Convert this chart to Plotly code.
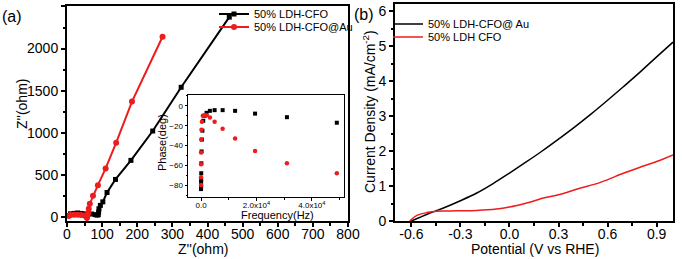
import plotly.graph_objects as go

# ---------------- data ----------------
# panel (a) Nyquist
a_cfo_x = [3, 10, 20, 30, 40, 50, 60, 70, 80, 86, 89, 90, 91, 95, 102, 114, 138, 182, 244, 325, 462]
a_cfo_y = [20, 40, 45, 50, 45, 40, 40, 38, 30, 25, 30, 60, 100, 140, 182, 293, 448, 674, 1022, 1541, 2373]
a_au_x = [5, 10, 20, 30, 40, 50, 55, 57, 58, 60, 62, 65, 74, 88, 110, 140, 185, 272]
a_au_y = [15, 25, 30, 28, 25, 20, 5, -10, 20, 50, 100, 160, 255, 380, 578, 884, 1371, 2140]

# inset Bode phase
in_freq_cfo = [49000, 31000, 19500, 12300, 7800, 4900, 3200, 2000, 1250, 800, 500, 320, 200, 125, 80, 50, 32, 20, 12, 8]
in_phase_cfo = [-17, -11.4, -7.8, -5, -4.3, -4.3, -5, -7, -10, -15, -25, -34, -46, -58, -68, -75, -77, -80, -82, -84]
in_freq_au = [49000, 31000, 19500, 12300, 7800, 4900, 3200, 2000, 1250, 650, 320, 160, 80, 40, 20, 10, 5]
in_phase_au = [-68, -58, -45.5, -33, -23, -16, -11.8, -9.4, -9.4, -10, -16, -24, -34, -47, -59, -72, -80]

# panel (b) LSV
b_au_x = [-0.6, -0.55, -0.5, -0.45, -0.4, -0.3, -0.2, -0.1, 0.0, 0.1, 0.2, 0.3, 0.4, 0.5, 0.6, 0.7, 0.8, 0.9, 1.0]
b_au_y = [0.0, 0.1, 0.2, 0.29, 0.38, 0.58, 0.8, 1.07, 1.37, 1.68, 2.0, 2.34, 2.69, 3.06, 3.45, 3.85, 4.26, 4.69, 5.11]
b_cfo_x = [-0.61, -0.566, -0.505, -0.445, -0.38, -0.32, -0.2, -0.08, 0.0, 0.1, 0.22, 0.3, 0.42, 0.56, 0.7, 0.82, 0.9, 1.0]
b_cfo_y = [0.0, 0.16, 0.24, 0.28, 0.285, 0.29, 0.3, 0.34, 0.4, 0.51, 0.67, 0.75, 0.92, 1.11, 1.37, 1.57, 1.7, 1.89]

inset_xticks = [0, 20000, 40000]
inset_xtext = ["0.0", "2.0x10<sup>4</sup>", "4.0x10<sup>4</sup>"]

W, H = 682, 259
def px(x):
    return x / W
def py(y):
    return 1 - y / H

FONT = "Liberation Sans, Arial, sans-serif"
BLACK = "#000000"
RED = "#ee1c1c"

fig = go.Figure()

fig.add_trace(go.Scatter(x=a_cfo_x, y=a_cfo_y, mode="lines+markers", name="50% LDH-CFO",
                         line=dict(color=BLACK, width=2), marker=dict(symbol="square", size=5, color=BLACK),
                         xaxis="x", yaxis="y", legend="legend"))
fig.add_trace(go.Scatter(x=a_au_x, y=a_au_y, mode="lines+markers", name="50% LDH-CFO@Au",
                         line=dict(color=RED, width=2), marker=dict(symbol="circle", size=6, color=RED),
                         xaxis="x", yaxis="y", legend="legend3"))

fig.add_trace(go.Scatter(x=in_freq_cfo, y=in_phase_cfo, mode="markers", showlegend=False,
                         marker=dict(symbol="square", size=4, color=BLACK), xaxis="x3", yaxis="y3"))
fig.add_trace(go.Scatter(x=in_freq_au, y=in_phase_au, mode="markers", showlegend=False,
                         marker=dict(symbol="circle", size=4.5, color=RED), xaxis="x3", yaxis="y3"))

fig.add_trace(go.Scatter(x=b_au_x, y=b_au_y, mode="lines", name="50% LDH-CFO@ Au",
                         line=dict(color=BLACK, width=1.5, shape="spline"), xaxis="x2", yaxis="y2", legend="legend2"))
fig.add_trace(go.Scatter(x=b_cfo_x, y=b_cfo_y, mode="lines", name="50% LDH CFO",
                         line=dict(color=RED, width=1.5, shape="spline"), xaxis="x2", yaxis="y2", legend="legend4"))

main_axis = dict(showgrid=False, zeroline=False, showline=True, linecolor=BLACK, linewidth=2,
                 mirror=True, ticks="outside", ticklen=4, tickwidth=1.5, tickcolor=BLACK, automargin=False,
                 tickfont=dict(family=FONT, size=14, color=BLACK))

def leg(x, y):
    return dict(x=px(x), y=py(y), xanchor="left", yanchor="middle", bgcolor="rgba(0,0,0,0)",
                font=dict(family=FONT, size=11, color=BLACK), itemwidth=30, tracegroupgap=0,
                borderwidth=0)

fig.update_layout(
    template="none",
    width=W, height=H, margin=dict(l=0, r=0, t=0, b=0, autoexpand=False),
    paper_bgcolor="white", plot_bgcolor="white",
    font=dict(family=FONT, color=BLACK),
    xaxis=dict(main_axis, domain=[px(67), px(348)], range=[0, 800], dtick=100, ticklabelstandoff=-5,
               minor=dict(dtick=50, ticks="outside", ticklen=2.5, tickcolor=BLACK), anchor="y"),
    yaxis=dict(main_axis, domain=[py(221), py(6)], range=[-45, 2505], dtick=500,
               minor=dict(dtick=250, ticks="outside", ticklen=2.5, tickcolor=BLACK), anchor="x"),
    xaxis2=dict(main_axis, domain=[px(395), px(673)], range=[-0.7, 1.0], tickvals=[-0.6, -0.3, 0.0, 0.3, 0.6, 0.9],
                ticktext=["-0.6", "-0.3", "0.0", "0.3", "0.6", "0.9"], ticklabelstandoff=-5,
                minor=dict(dtick=0.15, tick0=-0.6, ticks="outside", ticklen=2.5, tickcolor=BLACK), anchor="y2"),
    yaxis2=dict(main_axis, domain=[py(221), py(4)], range=[0, 6.2], dtick=1,
                minor=dict(dtick=0.5, ticks="outside", ticklen=2.5, tickcolor=BLACK), anchor="x2"),
    xaxis3=dict(showgrid=False, zeroline=False, showline=True, linecolor=BLACK, linewidth=1, mirror=True,
                ticks="outside", ticklen=2.5, tickcolor=BLACK, domain=[px(188), px(344)], range=[-4700, 51600],
                tickvals=inset_xticks, ticktext=inset_xtext, tickfont=dict(family=FONT, size=8, color=BLACK),
                anchor="y3", automargin=False, ticklabelstandoff=-2,
                minor=dict(dtick=10000, ticks="outside", ticklen=1.5, tickcolor=BLACK)),
    yaxis3=dict(showgrid=False, zeroline=False, showline=True, linecolor=BLACK, linewidth=1, mirror=True,
                ticks="outside", ticklen=2.5, tickcolor=BLACK, domain=[py(197), py(95)], range=[-92, 11],
                dtick=20, tickfont=dict(family=FONT, size=8, color=BLACK), anchor="x3", automargin=False,
                minor=dict(dtick=10, ticks="outside", ticklen=1.5, tickcolor=BLACK)),
    legend=leg(214, 14),
    legend3=leg(214, 27),
    legend2=leg(388, 24),
    legend4=leg(388, 37),
)

ann = [
    dict(text="Z''(ohm)", x=px(203), y=py(249), textangle=0, font=dict(size=14)),
    dict(text="Z''(ohm)", x=px(22), y=py(104), textangle=-90, font=dict(size=14)),
    dict(text="Potential (V vs RHE)", x=px(535), y=py(249), textangle=0, font=dict(size=14)),
    dict(text="Current Density (mA/cm<sup>-2</sup>)", x=px(369), y=py(112), textangle=-90, font=dict(size=14)),
    dict(text="(a)", x=px(12), y=py(17), textangle=0, font=dict(size=16)),
    dict(text="(b)", x=px(364), y=py(14), textangle=0, font=dict(size=16)),
    dict(text="Phase(deg)", x=px(162), y=py(143), textangle=-90, font=dict(size=11)),
    dict(text="Frequency(Hz)", x=px(277), y=py(215), textangle=0, font=dict(size=11)),
]
for a in ann:
    fig.add_annotation(xref="paper", yref="paper", showarrow=False, xanchor="center", yanchor="middle",
                       text=a["text"], x=a["x"], y=a["y"], textangle=a["textangle"],
                       font=dict(family=FONT, color=BLACK, size=a["font"]["size"]))

fig.write_html("out.html", config={"displayModeBar": False},
               post_script="document.body.style.margin='0';document.body.style.overflow='hidden';")
